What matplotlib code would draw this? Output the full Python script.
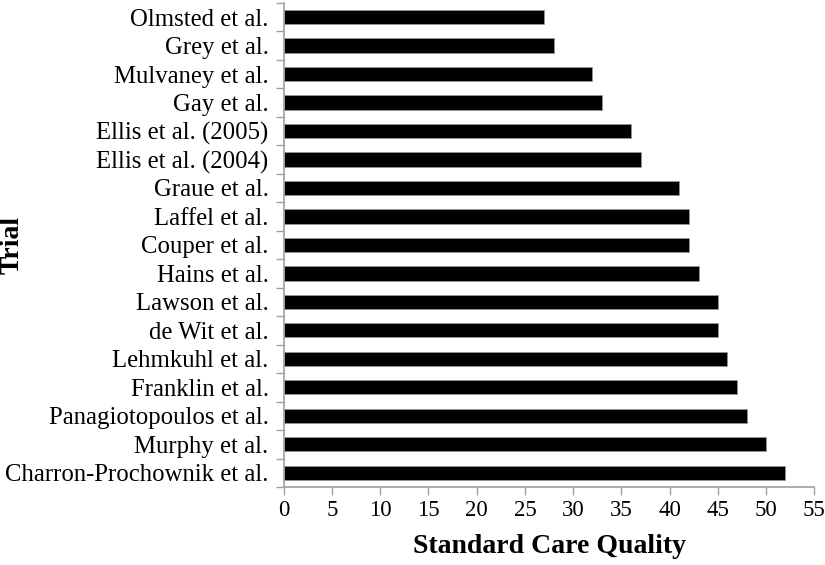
import numpy as np
import matplotlib.pyplot as plt

trials = ["Olmsted et al.", "Grey et al.", "Mulvaney et al.", "Gay et al.",
          "Ellis et al. (2005)", "Ellis et al. (2004)", "Graue et al.",
          "Laffel et al.", "Couper et al.", "Hains et al.", "Lawson et al.",
          "de Wit et al.", "Lehmkuhl et al.", "Franklin et al.",
          "Panagiotopoulos et al.", "Murphy et al.", "Charron-Prochownik et al."]
quality = [27, 28, 32, 33, 36, 37, 41, 42, 42, 43, 45, 45, 46, 47, 48, 50, 52]
xticks = list(range(0, 56, 5))

plt.rcParams["font.family"] = ["Liberation Serif", "DejaVu Serif"]

fig = plt.figure(figsize=(8.25, 5.65), dpi=100)
ax = fig.add_axes([0.344, 0.138, 0.643, 0.857])

y = np.arange(len(trials))
ax.barh(y, quality, height=0.5, color="black", edgecolor="#999999", linewidth=0.5)

ax.set_xlim(0, 55)
ax.set_ylim(len(trials) - 0.5, -0.5)
ax.set_xticks(xticks)
ax.set_xticklabels([str(t) for t in xticks], fontsize=16.5)
ax.set_yticks(y)
ax.set_yticklabels(trials, fontsize=17.8)
ax.set_yticks(np.arange(len(trials) + 1) - 0.5, minor=True)

ax.tick_params(axis="y", which="major", length=0, pad=11)
ax.tick_params(axis="y", which="minor", length=6, color="#a0a0a0", width=1)
ax.tick_params(axis="x", which="major", length=6, color="#a0a0a0", width=1, pad=3)

for s in ["top", "right"]:
    ax.spines[s].set_visible(False)
for s in ["left", "bottom"]:
    ax.spines[s].set_color("#a0a0a0")
    ax.spines[s].set_linewidth(1.2)

ax.set_xlabel("Standard Care Quality", fontsize=20, fontweight="bold", labelpad=10)
ax.set_ylabel("Trial", fontsize=20, fontweight="bold", va="center")
ax.yaxis.set_label_coords(-0.512, 0.5)

fig.savefig("out.png", dpi=100)
